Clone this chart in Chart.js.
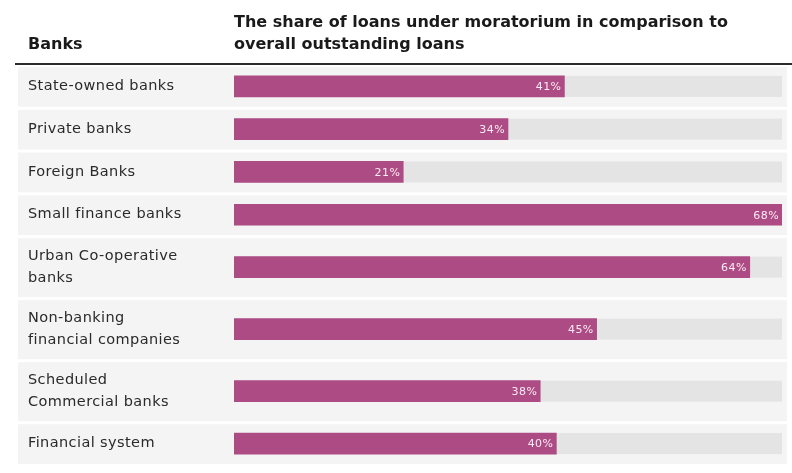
<!DOCTYPE html>
<html>
<head>
<meta charset="utf-8">
<script src="https://cdn.jsdelivr.net/npm/chart.js@4/dist/chart.umd.min.js"></script>
<style>
  html, body { margin: 0; padding: 0; background: #fff; }
  #wrap { position: relative; width: 792px; height: 473px; }
  .head { position: absolute; font-family: "DejaVu Sans", sans-serif; font-weight: bold; font-size: 16px; color: #1a1a1a; line-height: 22px; }
  #banksHead { left: 28px; top: 33px; }
  #titleHead { left: 234px; top: 11px; }
</style>
</head>
<body>
<div id="wrap">
  <canvas id="barChart"></canvas>
  <div class="head" id="banksHead">Banks</div>
  <div class="head" id="titleHead">The share of loans under moratorium in comparison to<br>overall outstanding loans</div>
</div>
<script>
var bankLabels = [
  ["State-owned banks"],
  ["Private banks"],
  ["Foreign Banks"],
  ["Small finance banks"],
  ["Urban Co-operative", "banks"],
  ["Non-banking", "financial companies"],
  ["Scheduled", "Commercial banks"],
  ["Financial system"]
];
var loanShare = [41, 34, 21, 68, 64, 45, 38, 40];

// row heights follow the number of label lines
var rowStart = [], rowSize = [], rowMid = [];
var acc = 0;
bankLabels.forEach(function(l){
  var s = l.length > 1 ? 1.45 : 1;
  rowStart.push(acc); rowSize.push(s); rowMid.push(acc + s / 2);
  acc += s;
});
var totalRows = acc;
var xMax = Math.max.apply(null, loanShare);

var rowsPlugin = {
  id: 'rows',
  beforeDraw: function(chart){
    var c = chart.ctx, y = chart.scales.y, a = chart.chartArea;
    c.save();
    c.fillStyle = '#2b2b2b';
    c.fillRect(15, a.top - 2, 777, 2);
    rowStart.forEach(function(s, i){
      var top = y.getPixelForValue(s), bot = y.getPixelForValue(s + rowSize[i]);
      c.fillStyle = '#f4f4f4';
      c.fillRect(18, top + 2, 769, bot - top - 3);
    });
    c.restore();
    c.letterSpacing = '0.4px';
  },
  beforeDatasetsDraw: function(chart){
    var c = chart.ctx, a = chart.chartArea;
    var meta = chart.getDatasetMeta(0);
    c.save();
    c.fillStyle = '#e4e4e4';
    meta.data.forEach(function(bar){
      c.fillRect(a.left, bar.y - bar.height / 2, a.right - a.left, bar.height);
    });
    c.restore();
  },
  afterDatasetsDraw: function(chart){
    var c = chart.ctx;
    var meta = chart.getDatasetMeta(0);
    c.save();
    c.font = '11px "DejaVu Sans", sans-serif';
    c.fillStyle = '#fbeaf3';
    c.textAlign = 'right';
    c.textBaseline = 'middle';
    meta.data.forEach(function(bar, i){
      c.fillText(loanShare[i] + '%', bar.x - 3, bar.y + 1);
    });
    c.restore();
  }
};

var ctx = document.getElementById("barChart").getContext("2d");
new Chart(ctx, {
  type: 'bar',
  data: {
    labels: bankLabels.map(function(l){ return l.join(' '); }),
    datasets: [{
      label: 'Share of loans under moratorium',
      data: loanShare.map(function(v, i){ return {x: v, y: rowMid[i]}; }),
      backgroundColor: '#ad4c84',
      borderWidth: 0,
      barThickness: 21
    }]
  },
  options: {
    indexAxis: 'y',
    responsive: true,
    maintainAspectRatio: false,
    animation: false,
    layout: { padding: { top: 65, bottom: 8, left: 28, right: 10 } },
    plugins: { legend: { display: false }, tooltip: { enabled: false } },
    scales: {
      x: { display: false, min: 0, max: xMax },
      y: {
        type: 'linear',
        reverse: true,
        offset: false,
        min: 0,
        max: totalRows,
        grid: { display: false },
        border: { display: false },
        afterBuildTicks: function(s){ s.ticks = rowMid.map(function(v){ return {value: v}; }); },
        afterFit: function(s){ s.width = 234 - 28; s.paddingTop = 0; s.paddingBottom = 0; },
        ticks: {
          autoSkip: false,
          crossAlign: 'far',
          color: '#2a2a2a',
          font: { family: '"DejaVu Sans", sans-serif', size: 14.5, lineHeight: 1.5 },
          callback: function(v, i){ return bankLabels[i]; }
        }
      }
    }
  },
  plugins: [rowsPlugin]
});
</script>
</body>
</html>
